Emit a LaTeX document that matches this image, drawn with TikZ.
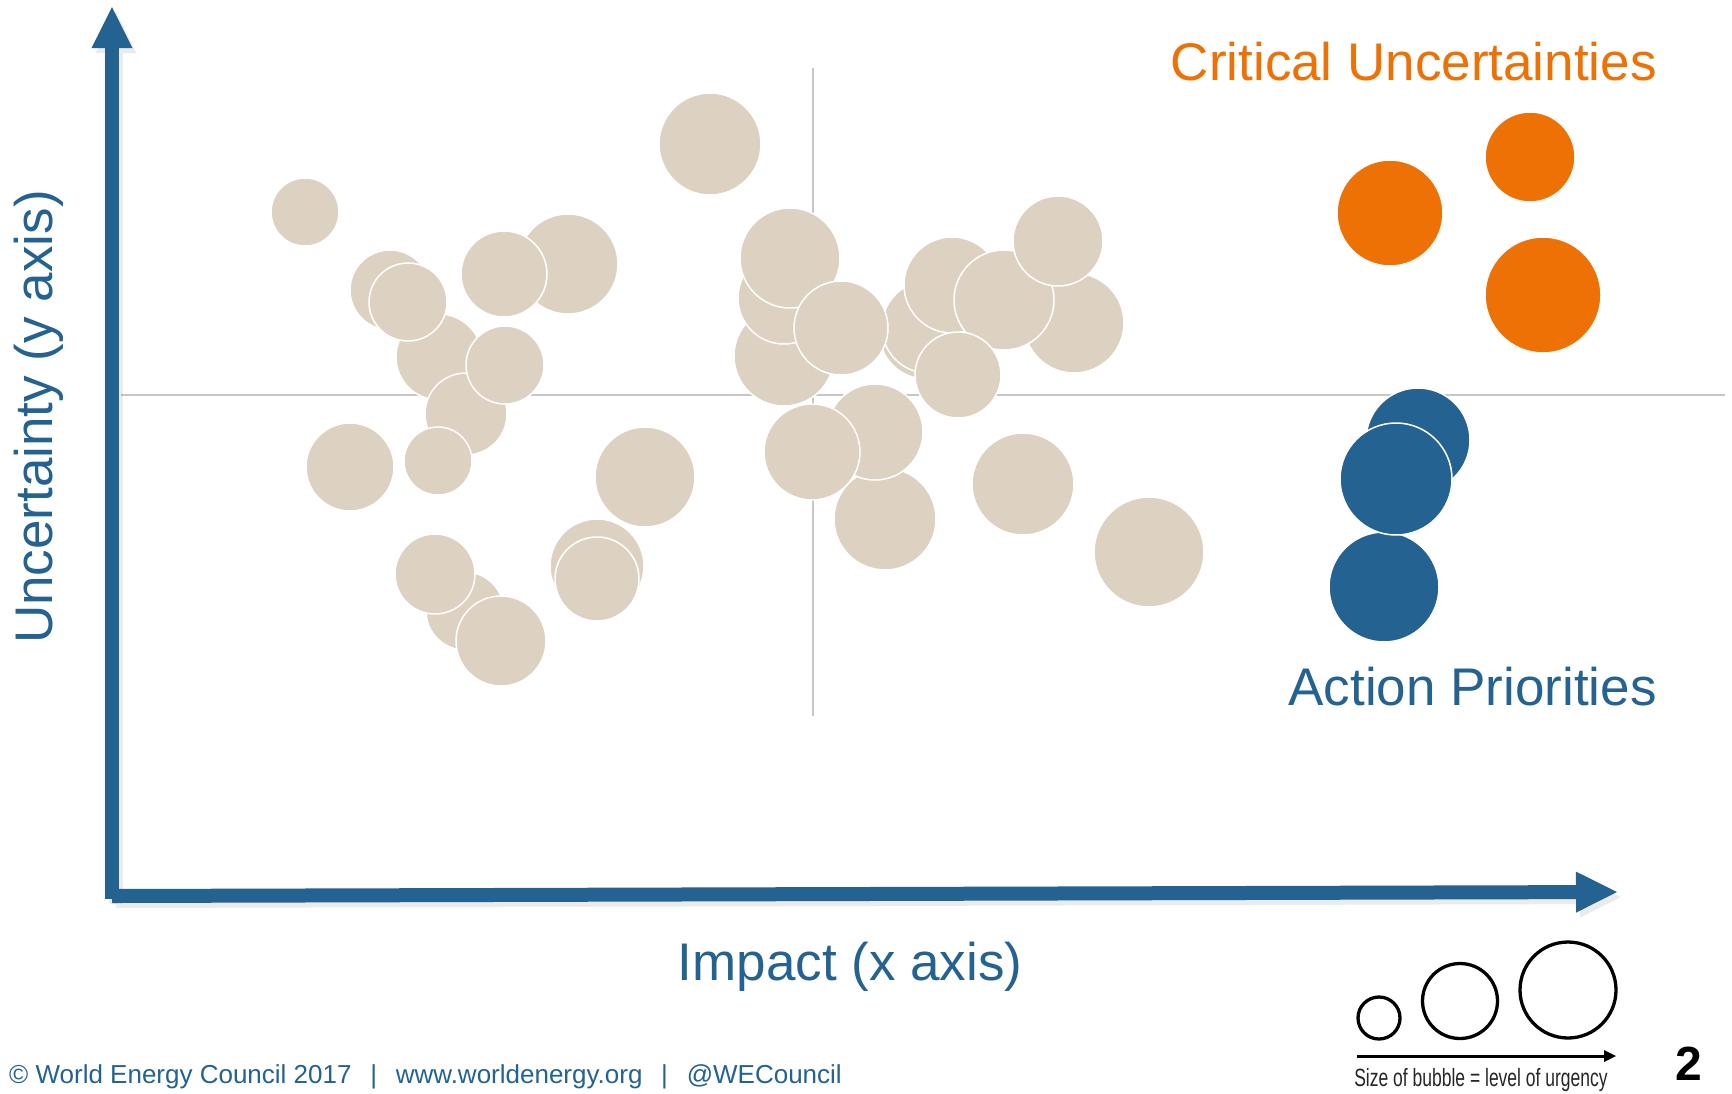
\documentclass[tikz,border=0pt]{standalone}
\usepackage{fontspec}
\setmainfont{Liberation Sans}
\newfontfamily\narrowfont[FakeStretch=0.7]{Liberation Sans}
\usetikzlibrary{arrows.meta}
\definecolor{wecblue}{HTML}{246291}
\definecolor{wecorange}{HTML}{ED7104}
\definecolor{bubblebeige}{HTML}{DDD1C1}
\tikzset{
  bubble/.style={fill=bubblebeige, draw=white, line width=1.5pt},
  hotbubble/.style={fill=wecorange, draw=white, line width=1.5pt},
  actbubble/.style={fill=wecblue, draw=white, line width=1.5pt},
  gridline/.style={black!22, line width=1.6pt},
  axisline/.style={line width=14pt, -{Triangle[width=41pt,length=41pt,line width=0pt]}},
  bigtext/.style={font=\fontsize{53}{60}\selectfont, inner sep=0pt}
}
\begin{document}
\begin{tikzpicture}[x=1pt,y=-1pt]
  \useasboundingbox[fill=white] (0,0) rectangle (1732,1093);
  % quadrants
  \draw[gridline] (121,395) -- (1725,395);
  \draw[gridline] (813,68) -- (813,716);
  % beige bubbles, back to front
  \foreach \x/\y/\r in {305/212/34, 350/467/44, 390/290/40, 439/357/43,
      408/302/39, 568/264/50, 504/274/43, 466/414/41, 505/365/39,
      438/461/34, 645/477/50, 710/144/51, 465/611/39, 435/574/40,
      501/641/45, 597/566/47, 597/579/42, 784/356/50, 784/298/46,
      790/258/50, 1074/323/50, 926/332/47, 928/327/46, 841/328/47,
      952/285/48, 1004/300/50, 1058/241/45, 958/375/43, 885/519/51,
      875/432/48, 812/452/48, 1023/484/51, 1149/552/55}
    \filldraw[bubble] (\x,\y) circle[radius=\r pt];
  % critical uncertainties
  \filldraw[hotbubble] (1390,213) circle[radius=53pt];
  \filldraw[hotbubble] (1530,157) circle[radius=45pt];
  \filldraw[hotbubble] (1543,295) circle[radius=58pt];
  % action priorities
  \filldraw[actbubble] (1418,440) circle[radius=52pt];
  \filldraw[actbubble] (1384,587) circle[radius=55pt];
  \filldraw[actbubble] (1396,479) circle[radius=56pt];
  % axes with their shadow
  \draw[axisline, black, opacity=0.08, shift={(4,5)}] (112,899) -- (112,7);
  \draw[axisline, black, opacity=0.08, shift={(4,5)}] (112,896) -- (1617,892);
  \draw[axisline, wecblue] (112,899) -- (112,7);
  \draw[axisline, wecblue] (112,896) -- (1617,892);
  \node[bigtext, wecorange, anchor=base east] (crit) at (1657,80) {Critical Uncertainties};
  \node[bigtext, wecblue, anchor=base east] (act) at (1657,705) {Action Priorities};
  \node[bigtext, wecblue, anchor=base] (xlab) at (850,980) {Impact (x axis)};
  \node[bigtext, wecblue, anchor=base, rotate=90] (ylab) at (52,417) {Uncertainty (y axis)};
  % legend
  \draw[line width=3.3pt] (1379,1018) circle[radius=21pt];
  \draw[line width=3.3pt] (1460,1001) circle[radius=37.5pt];
  \draw[line width=3.3pt] (1568,990) circle[radius=48pt];
  \draw[line width=3pt, -{Triangle[width=12pt,length=12pt,line width=0pt]}] %
    (1357,1056) -- (1616,1056);
  \node[anchor=base, inner sep=0pt, black!85, font=\narrowfont\fontsize{25}{28}\selectfont] %
    (key) at (1481,1086) {Size of bubble = level of urgency};
  \node[anchor=base, inner sep=0pt, font=\bfseries\fontsize{48}{52}\selectfont] (page) at (1689,1080) {2};
  \node[anchor=base west, inner sep=0pt, wecblue, font=\fontsize{26}{30}\selectfont] %
    (foot) at (9,1083) {© World Energy Council 2017 ~\,|~\, www.worldenergy.org ~\,|~\, @WECouncil};
\end{tikzpicture}
\end{document}
